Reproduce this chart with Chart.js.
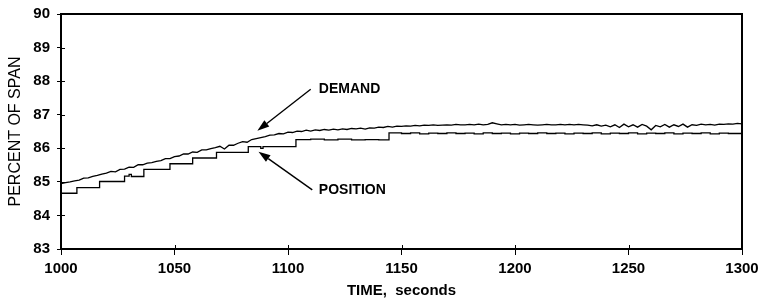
<!DOCTYPE html>
<html>
<head>
<meta charset="utf-8">
<script src="https://cdn.jsdelivr.net/npm/chart.js@4.4.1/dist/chart.umd.min.js"></script>
<style>
  html, body { margin: 0; padding: 0; background: #fff; }
  canvas { display: block; }
</style>
</head>
<body>
<canvas id="chart" width="759" height="303"></canvas>
<script>
// sampled every 2 s from 1000 s
const demandStart = 1000;
const demandStep = 2;
const demandValues = [
  84.95, 84.98, 85.00, 85.03, 85.05, 85.11, 85.12, 85.16, 85.19, 85.23,
  85.26, 85.31, 85.30, 85.37, 85.38, 85.44, 85.43, 85.51, 85.51, 85.56,
  85.57, 85.61, 85.63, 85.69, 85.69, 85.75, 85.77, 85.83, 85.83, 85.89,
  85.88, 85.95, 85.95, 85.99, 86.02, 86.06, 85.98, 86.09, 86.09, 86.15,
  86.20, 86.18, 86.26, 86.29, 86.32, 86.35, 86.39, 86.40, 86.44, 86.43,
  86.48, 86.47, 86.51, 86.50, 86.54, 86.51, 86.55, 86.53, 86.56, 86.54,
  86.57, 86.55, 86.58, 86.56, 86.59, 86.58, 86.60, 86.57, 86.61, 86.60,
  86.63, 86.62, 86.65, 86.63, 86.66, 86.65, 86.67, 86.66, 86.68, 86.67,
  86.69, 86.68, 86.70, 86.68, 86.69, 86.70, 86.69, 86.71, 86.70, 86.70,
  86.71, 86.70, 86.72, 86.70, 86.71, 86.76, 86.73, 86.70, 86.71, 86.70,
  86.71, 86.69, 86.70, 86.71, 86.70, 86.69, 86.70, 86.71, 86.70, 86.70,
  86.71, 86.70, 86.71, 86.70, 86.71, 86.70, 86.69, 86.67, 86.70, 86.66,
  86.69, 86.64, 86.70, 86.62, 86.72, 86.64, 86.70, 86.63, 86.71, 86.66,
  86.55, 86.68, 86.64, 86.71, 86.63, 86.70, 86.65, 86.72, 86.63, 86.70,
  86.68, 86.72, 86.70, 86.71, 86.69, 86.72, 86.71, 86.73, 86.72, 86.74,
  86.73
];

// position steps: each value starts at its time
const positionTimes = [
  1000, 1007, 1017, 1028, 1030, 1031, 1036.5, 1048, 1058, 1068.5,
  1082.5, 1088, 1089, 1103.5, 1110, 1116, 1122, 1128, 1134, 1140,
  1144.5, 1150, 1154, 1158, 1162, 1166, 1170, 1174, 1178, 1182,
  1186, 1190, 1194, 1198, 1202, 1206, 1210, 1214, 1218, 1222,
  1226, 1230, 1234, 1238, 1242, 1246, 1250, 1254, 1258, 1262,
  1266, 1270, 1274, 1278, 1282, 1286, 1290, 1294, 1300
];
const positionValues = [
  84.66, 84.83, 85.01, 85.17, 85.22, 85.16, 85.37, 85.54, 85.71, 85.88,
  86.05, 86.00, 86.05, 86.26, 86.27, 86.25, 86.27, 86.25, 86.26, 86.25,
  86.46, 86.44, 86.46, 86.43, 86.45, 86.44, 86.46, 86.44, 86.45, 86.43,
  86.46, 86.44, 86.45, 86.43, 86.45, 86.44, 86.46, 86.44, 86.45, 86.43,
  86.45, 86.44, 86.46, 86.43, 86.45, 86.44, 86.46, 86.43, 86.45, 86.44,
  86.46, 86.43, 86.45, 86.44, 86.46, 86.43, 86.45, 86.44, 86.44
];

const xTicks = [1000, 1050, 1100, 1150, 1200, 1250, 1300];
const yTicks = [83, 84, 85, 86, 87, 88, 89, 90];

// label text, arrow tail, arrow tip (in data units)
const notes = [
  { text: "DEMAND", at: [1113.6, 87.75], from: [1110, 87.76], to: [1086.5, 86.52] },
  { text: "POSITION", at: [1113.6, 84.76], from: [1110.7, 84.76], to: [1087, 85.9] }
];

const demandData = demandValues.map((v, i) => ({ x: demandStart + i * demandStep, y: v }));
const positionData = positionTimes.map((t, i) => ({ x: t, y: positionValues[i] }));

const FONT = "'Liberation Sans', Arial, sans-serif";

const framePlugin = {
  id: "frame",
  afterDraw(chart) {
    const { ctx, chartArea: a, scales: { x, y } } = chart;
    ctx.save();
    ctx.strokeStyle = "#000";
    // inner halves of the tick marks
    ctx.lineWidth = 1;
    ctx.beginPath();
    xTicks.forEach(t => {
      const px = Math.round(x.getPixelForValue(t)) + 0.5;
      ctx.moveTo(px, a.bottom);
      ctx.lineTo(px, a.bottom - 4);
    });
    yTicks.forEach(t => {
      const py = Math.round(y.getPixelForValue(t)) + 0.5;
      ctx.moveTo(a.left, py);
      ctx.lineTo(a.left + 4, py);
    });
    ctx.stroke();
    // box
    ctx.lineWidth = 2;
    ctx.strokeRect(a.left, a.top, a.right - a.left, a.bottom - a.top);

    // annotations
    ctx.fillStyle = "#000";
    ctx.font = "bold 14px " + FONT;
    ctx.textAlign = "left";
    ctx.textBaseline = "middle";
    notes.forEach(n => {
      const tx = x.getPixelForValue(n.at[0]), ty = y.getPixelForValue(n.at[1]);
      const fx = x.getPixelForValue(n.from[0]), fy = y.getPixelForValue(n.from[1]);
      const px = x.getPixelForValue(n.to[0]), py = y.getPixelForValue(n.to[1]);
      ctx.fillText(n.text, tx, ty);
      const ang = Math.atan2(py - fy, px - fx);
      const len = 12, half = 4;
      const bx = px - len * Math.cos(ang), by = py - len * Math.sin(ang);
      ctx.lineWidth = 1.4;
      ctx.beginPath();
      ctx.moveTo(fx, fy);
      ctx.lineTo(bx, by);
      ctx.stroke();
      ctx.beginPath();
      ctx.moveTo(px, py);
      ctx.lineTo(bx + half * Math.sin(ang), by - half * Math.cos(ang));
      ctx.lineTo(bx - half * Math.sin(ang), by + half * Math.cos(ang));
      ctx.closePath();
      ctx.fill();
    });
    ctx.restore();
  }
};

new Chart(document.getElementById("chart"), {
  type: "line",
  data: {
    datasets: [
      {
        label: "DEMAND",
        data: demandData,
        borderColor: "#000",
        borderWidth: 1.3,
        pointRadius: 0,
        tension: 0
      },
      {
        label: "POSITION",
        data: positionData,
        borderColor: "#000",
        borderWidth: 1.3,
        pointRadius: 0,
        stepped: true
      }
    ]
  },
  options: {
    responsive: false,
    animation: false,
    layout: { padding: { top: 14, right: 17, left: 0, bottom: 0 } },
    plugins: {
      legend: { display: false },
      tooltip: { enabled: false }
    },
    scales: {
      x: {
        type: "linear",
        min: 1000,
        max: 1300,
        afterFit(scale) {
          scale.height = 54;
          scale.paddingLeft = 0;
          scale.paddingRight = 0;
        },
        afterBuildTicks(scale) { scale.ticks = xTicks.map(v => ({ value: v })); },
        border: { display: false },
        grid: { drawOnChartArea: false, color: "#000", tickLength: 6, lineWidth: 1 },
        ticks: {
          color: "#000",
          padding: 5,
          maxRotation: 0,
          callback: v => String(v),
          font: { family: FONT, size: 15, weight: "bold" }
        },
        title: {
          display: true,
          text: "TIME,  seconds",
          color: "#000",
          padding: { top: 0, bottom: 3 },
          font: { family: FONT, size: 15, weight: "bold" }
        }
      },
      y: {
        min: 83,
        max: 90,
        afterFit(scale) {
          scale.width = 61;
          scale.paddingTop = 0;
          scale.paddingBottom = 0;
        },
        afterBuildTicks(scale) { scale.ticks = yTicks.map(v => ({ value: v })); },
        border: { display: false },
        grid: { drawOnChartArea: false, color: "#000", tickLength: 4, lineWidth: 1 },
        ticks: { color: "#000", padding: 7, font: { family: FONT, size: 15, weight: "bold" } },
        title: {
          display: true,
          text: "PERCENT OF SPAN",
          color: "#000",
          padding: { top: 6, bottom: 0 },
          font: { family: FONT, size: 16 }
        }
      }
    }
  },
  plugins: [framePlugin]
});
</script>
</body>
</html>
